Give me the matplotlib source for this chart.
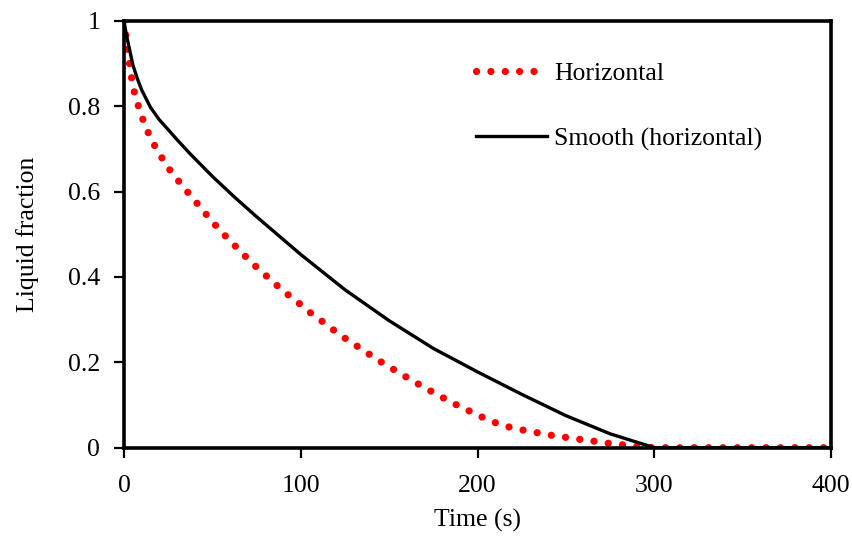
import matplotlib
matplotlib.use("Agg")
import matplotlib.pyplot as plt

plt.rcParams['font.family'] = ['Liberation Serif', 'DejaVu Serif']

# Horizontal (red dotted)
t_h = [0, 1.1, 2.1, 4.3, 5.8, 8.1, 10.6, 13.6, 17.0, 21.1, 25.5, 30.4, 35.5, 40.6, 45.6,
       50.9, 56.4, 61.8, 67.5, 73.1, 79.0, 84.9, 90.9, 96.9, 103.2, 109.8, 116.2, 122.6,
       129.2, 135.8, 142.6, 149.4, 156.2, 163.1, 169.9, 176.9, 184.0, 191.2, 198.4,
       205.5, 213.0, 220.8, 228.7, 236.5, 244.4, 252.1, 260.3, 268.2, 276.1, 284.0,
       292.0, 300.0, 350.0, 400.0]
y_h = [1.0, 0.965, 0.930, 0.866, 0.834, 0.801, 0.770, 0.739, 0.710, 0.681, 0.653, 0.627,
       0.601, 0.576, 0.551, 0.525, 0.500, 0.477, 0.453, 0.430, 0.408, 0.386, 0.364, 0.346,
       0.323, 0.303, 0.283, 0.263, 0.245, 0.227, 0.208, 0.191, 0.174, 0.157, 0.141, 0.125,
       0.109, 0.094, 0.080, 0.066, 0.054, 0.045, 0.039, 0.033, 0.027, 0.023, 0.018, 0.014,
       0.009, 0.006, 0.002, 0.0, 0.0, 0.0]

# Smooth (horizontal) (black solid)
t_s = [0, 1.0, 2.3, 5.0, 7.5, 10.0, 15.0, 20.0, 25.0, 30.0, 37.5, 50.0, 62.5, 75.0,
       100.0, 125.0, 150.0, 175.0, 200.0, 225.0, 250.0, 275.0, 290.0, 300.0, 400.0]
y_s = [1.0, 0.975, 0.949, 0.897, 0.865, 0.838, 0.797, 0.768, 0.745, 0.7215, 0.688,
       0.6355, 0.587, 0.541, 0.4525, 0.370, 0.2975, 0.2325, 0.1775, 0.125, 0.075,
       0.0325, 0.013, 0.0, 0.0]

x_ticks = [0, 100, 200, 300, 400]
y_ticks = [0, 0.2, 0.4, 0.6, 0.8, 1]
y_ticklabels = ['0', '0.2', '0.4', '0.6', '0.8', '1']

FS = 18.5

fig = plt.figure(figsize=(8.52, 5.41), dpi=100)
ax = fig.add_axes([0.1455, 0.1725, 0.9754 - 0.1455, 0.9617 - 0.1725])

ax.plot(t_h, y_h, color='#ff0000', linewidth=5.2, linestyle=(0, (0.01, 1.98)),
        dash_capstyle='round', label='Horizontal', zorder=3)
ax.plot(t_s, y_s, color='black', linewidth=2.4, label='Smooth (horizontal)', zorder=4)

ax.set_xlim(0, 400)
ax.set_ylim(0, 1)
ax.set_xticks(x_ticks)
ax.set_yticks(y_ticks)
ax.set_yticklabels(y_ticklabels)
for s in ax.spines.values():
    s.set_linewidth(2.6)
    s.set_zorder(5)
ax.tick_params(direction='out', length=7, width=1.6, labelsize=FS)
ax.tick_params(axis='x', pad=13)
ax.tick_params(axis='y', pad=10)
ax.set_xlabel('Time (s)', fontsize=FS)
ax.set_ylabel('Liquid fraction', fontsize=FS)
ax.xaxis.set_label_coords(0.5, -0.143)
ax.yaxis.set_label_coords(-0.12, 0.5)

leg = ax.legend(loc='upper left', bbox_to_anchor=(476 / 852, 1 - 62 / 541),
                bbox_transform=fig.transFigure, frameon=False, borderpad=0,
                borderaxespad=0, fontsize=FS, handlelength=2.75, handletextpad=0.3,
                labelspacing=1.65)

fig.savefig('out.png', dpi=100)
